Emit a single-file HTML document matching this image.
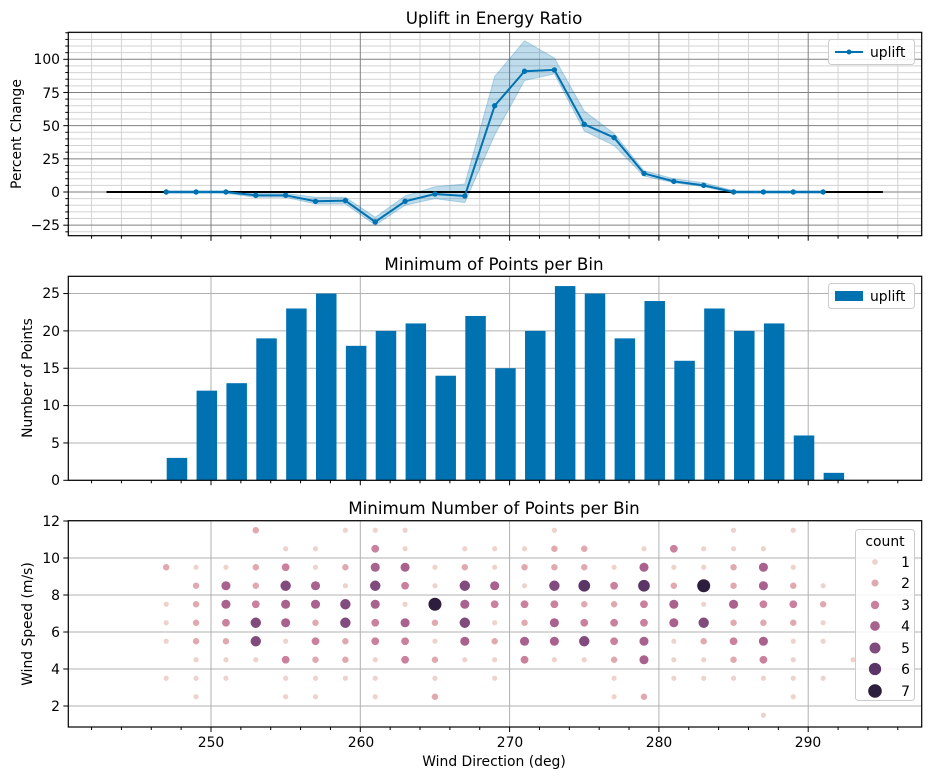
<!DOCTYPE html>
<html><head><meta charset="utf-8"><style>
body{margin:0;background:#fff}
svg{display:block;font-family:"DejaVu Sans","Liberation Sans",sans-serif}
</style></head><body>
<svg id="s" width="930" height="778" viewBox="0 0 930 778" xmlns="http://www.w3.org/2000/svg">
<rect width="930" height="778" fill="#fff"/>
<g id="g"></g>
<text x="494" y="24" font-size="16.7" text-anchor="middle" fill="#000">Uplift in Energy Ratio</text>
<text x="494" y="270" font-size="16.7" text-anchor="middle" fill="#000">Minimum of Points per Bin</text>
<text x="494" y="514" font-size="16.7" text-anchor="middle" fill="#000">Minimum Number of Points per Bin</text>
<text transform="translate(21,134) rotate(-90)" font-size="13.9" text-anchor="middle">Percent Change</text>
<text transform="translate(32,378) rotate(-90)" font-size="13.9" text-anchor="middle">Number of Points</text>
<text transform="translate(32,624) rotate(-90)" font-size="13.9" text-anchor="middle">Wind Speed (m/s)</text>
<text x="494" y="766" font-size="13.9" text-anchor="middle">Wind Direction (deg)</text>
<g font-size="13.9" text-anchor="end">
<text x="60" y="64">100</text><text x="60" y="98">75</text><text x="60" y="131">50</text><text x="60" y="164">25</text><text x="60" y="197">0</text><text x="60" y="230">−25</text>
<text x="60" y="298">25</text><text x="60" y="336">20</text><text x="60" y="373">15</text><text x="60" y="410">10</text><text x="60" y="448">5</text><text x="60" y="485">0</text>
<text x="60" y="526">12</text><text x="60" y="563">10</text><text x="60" y="600">8</text><text x="60" y="637">6</text><text x="60" y="674">4</text><text x="60" y="711">2</text>
</g>
<g font-size="13.9" text-anchor="middle">
<text x="211" y="747">250</text><text x="361" y="747">260</text><text x="510" y="747">270</text><text x="659" y="747">280</text><text x="808" y="747">290</text>
</g>
<rect x="828.5" y="39.5" width="86" height="25" rx="3" fill="#fff" fill-opacity="0.85" stroke="#ccc"/>
<line x1="835" y1="52" x2="863" y2="52" stroke="#0072b2" stroke-width="2"/><circle cx="849" cy="52" r="2.5" fill="#0072b2"/>
<text x="870" y="57" font-size="13.9">uplift</text>
<rect x="828.5" y="283.5" width="86" height="25" rx="3" fill="#fff" fill-opacity="0.85" stroke="#ccc"/>
<rect x="835" y="291" width="28" height="10" fill="#0072b2"/>
<text x="870" y="301" font-size="13.9">uplift</text>
<rect x="855.5" y="529.5" width="59" height="171" rx="3" fill="#fff" fill-opacity="0.85" stroke="#ccc"/>
<text x="885" y="546" font-size="13.9" text-anchor="middle">count</text>
<g font-size="13.9" text-anchor="end" id="lg">
<text x="910" y="567">1</text><text x="910" y="588">2</text><text x="910" y="610">3</text><text x="910" y="631">4</text><text x="910" y="653">5</text><text x="910" y="674">6</text><text x="910" y="696">7</text>
</g>
</svg>
<script>
const NS="http://www.w3.org/2000/svg",G=document.getElementById('g');
function el(t,a){const e=document.createElementNS(NS,t);for(const k in a)e.setAttribute(k,a[k]);G.appendChild(e);return e;}
const X=d=>211+(d-250)*14.93;
const L=68.3,R=921.7;
const Y1=v=>192-1.327*v, T1=32.3,B1=235.7;
for(let v=-30;v<=120;v+=5){if(v%25)el('line',{x1:L,x2:R,y1:Y1(v),y2:Y1(v),stroke:'#d3d3d3','stroke-width':1});}
for(let d=242;d<=296;d+=2){if(d%10)el('line',{x1:X(d),x2:X(d),y1:T1,y2:B1,stroke:'#d3d3d3','stroke-width':1});}
for(let v=-25;v<=100;v+=25)el('line',{x1:L,x2:R,y1:Y1(v),y2:Y1(v),stroke:'#808080','stroke-width':1});
for(let d=250;d<=290;d+=10)el('line',{x1:X(d),x2:X(d),y1:T1,y2:B1,stroke:'#808080','stroke-width':1});
const xs=[];for(let d=247;d<=291;d+=2)xs.push(d);
const val=[0,0,0,-2.5,-2.5,-7,-6.5,-22.5,-7,-1.5,-3,65,91,92,51,41,14,8,5,0,0,0,0];
const up=[1,1,1,-1,-1,-4,-4,-19,-3,4,6,87,114,101,61,44,16,10,7,1,1,1,1];
const lo=[-1,-1,-1,-4,-4,-9,-9,-25,-10,-5,-8,43,84,89,46,35,12,7,4,-1,-1,-1,-1];
let band=xs.map((d,i)=>X(d)+','+Y1(up[i])).join(' ')+' '+xs.map((d,i)=>X(d)+','+Y1(lo[i])).reverse().join(' ');
el('polygon',{points:band,fill:'#0072b2','fill-opacity':0.25,stroke:'#0072b2','stroke-opacity':0.25});
el('line',{x1:X(243),x2:X(295),y1:Y1(0),y2:Y1(0),stroke:'#000','stroke-width':2});
el('polyline',{points:xs.map((d,i)=>X(d)+','+Y1(val[i])).join(' '),fill:'none',stroke:'#0072b2','stroke-width':2});
xs.forEach((d,i)=>el('circle',{cx:X(d),cy:Y1(val[i]),r:2.7,fill:'#0072b2'}));
const Y2=v=>480.3-7.47*v,T2=276.3,B2=480.3;
for(let v=0;v<=25;v+=5)el('line',{x1:L,x2:R,y1:Y2(v),y2:Y2(v),stroke:'#b0b0b0','stroke-width':1});
for(let d=250;d<=290;d+=10)el('line',{x1:X(d),x2:X(d),y1:T2,y2:B2,stroke:'#b0b0b0','stroke-width':1});
const bars=[3,12,13,19,23,25,18,20,21,14,22,15,20,26,25,19,24,16,23,20,21,6,1];
bars.forEach((b,i)=>el('rect',{x:X(247+2*i)+0.5,y:Y2(b),width:20.5,height:B2-Y2(b),fill:'#0072b2'}));
const Y3=v=>706-(v-2)*18.5,T3=520.7,B3=727;
for(let v=2;v<=12;v+=2)el('line',{x1:L,x2:R,y1:Y3(v),y2:Y3(v),stroke:'#b0b0b0','stroke-width':1});
for(let d=250;d<=290;d+=10)el('line',{x1:X(d),x2:X(d),y1:T3,y2:B3,stroke:'#b0b0b0','stroke-width':1});
const C=['','#eed2cc','#e0a9b0','#c9819e','#a8628d','#814b7d','#5a3566','#2d1e3e'];
const R_=c=>2.9+(c-1)*0.65;
const rows={
11.5:[[253,2],[259,1],[261,1],[263,1],[273,1],[285,1],[289,1]],
10.5:[[255,1],[257,1],[261,3],[263,1],[267,1],[269,1],[271,1],[273,2],[275,2],[279,1],[281,3],[283,1],[285,1],[287,1]],
9.5:[[247,2],[249,1],[251,1],[253,2],[255,3],[257,1],[259,2],[261,4],[263,4],[265,1],[267,2],[269,1],[271,2],[273,2],[275,2],[277,1],[279,4],[281,1],[283,1],[285,2],[287,4],[289,1]],
8.5:[[249,2],[251,4],[253,2],[255,5],[257,4],[259,1],[261,5],[263,3],[265,1],[267,5],[269,4],[271,1],[273,5],[275,6],[277,3],[279,6],[281,2],[283,7],[285,2],[287,4],[289,2],[291,1]],
7.5:[[247,1],[249,2],[251,4],[253,3],[255,4],[257,4],[259,5],[261,4],[263,1],[265,7],[267,4],[269,3],[271,3],[273,3],[275,2],[277,2],[279,3],[281,4],[283,1],[285,4],[287,3],[289,3],[291,2]],
6.5:[[247,1],[249,2],[251,3],[253,5],[255,4],[257,2],[259,5],[261,3],[263,4],[265,2],[267,5],[269,1],[271,2],[273,4],[275,3],[277,3],[279,3],[281,4],[283,5],[285,2],[287,2],[289,2],[291,1]],
5.5:[[247,1],[249,2],[251,2],[253,5],[255,1],[257,3],[259,2],[261,3],[263,3],[265,1],[267,4],[269,2],[271,4],[273,4],[275,5],[277,3],[279,4],[281,1],[283,2],[285,3],[287,4],[289,1],[291,1]],
4.5:[[249,1],[251,1],[253,1],[255,3],[257,2],[259,2],[261,1],[263,3],[265,2],[267,1],[269,1],[271,3],[273,1],[275,1],[277,2],[279,4],[281,1],[283,1],[285,2],[287,3],[289,1],[293,1]],
3.5:[[247,1],[249,1],[251,1],[255,1],[257,1],[259,1],[261,1],[265,1],[269,1],[277,1],[281,1],[283,1],[285,1],[287,1],[289,1],[291,1]],
2.5:[[249,1],[255,1],[257,1],[261,1],[265,2],[277,1],[279,2],[289,1]],
1.5:[[287,1]]};
for(const s in rows)rows[s].forEach(([d,c])=>el('circle',{cx:X(d),cy:Y3(+s),r:R_(c),fill:C[c],stroke:'#fff','stroke-width':0.6}));
[562,583,605,626,648,669,691].forEach((y,i)=>{const c=document.createElementNS(NS,'circle');c.setAttribute('cx',875);c.setAttribute('cy',y);c.setAttribute('r',R_(i+1));c.setAttribute('fill',C[i+1]);document.getElementById('s').appendChild(c);});
[[T1,B1],[T2,B2],[T3,B3]].forEach(([t,b])=>{
 el('rect',{x:L,y:t,width:R-L,height:b-t,fill:'none',stroke:'#000','stroke-width':1.2});
 for(let d=242;d<=296;d+=2){const maj=d%10==0;el('line',{x1:X(d),x2:X(d),y1:b,y2:b+(maj?5:3),stroke:'#000','stroke-width':1});}
});
for(let v=-30;v<=120;v+=5){el('line',{x1:L,x2:L-(v%25?3:5),y1:Y1(v),y2:Y1(v),stroke:'#000'});}
for(let v=0;v<=25;v+=5)el('line',{x1:L,x2:L-5,y1:Y2(v),y2:Y2(v),stroke:'#000'});
for(let v=2;v<=12;v+=2)el('line',{x1:L,x2:L-5,y1:Y3(v),y2:Y3(v),stroke:'#000'});
</script>
</body></html>
